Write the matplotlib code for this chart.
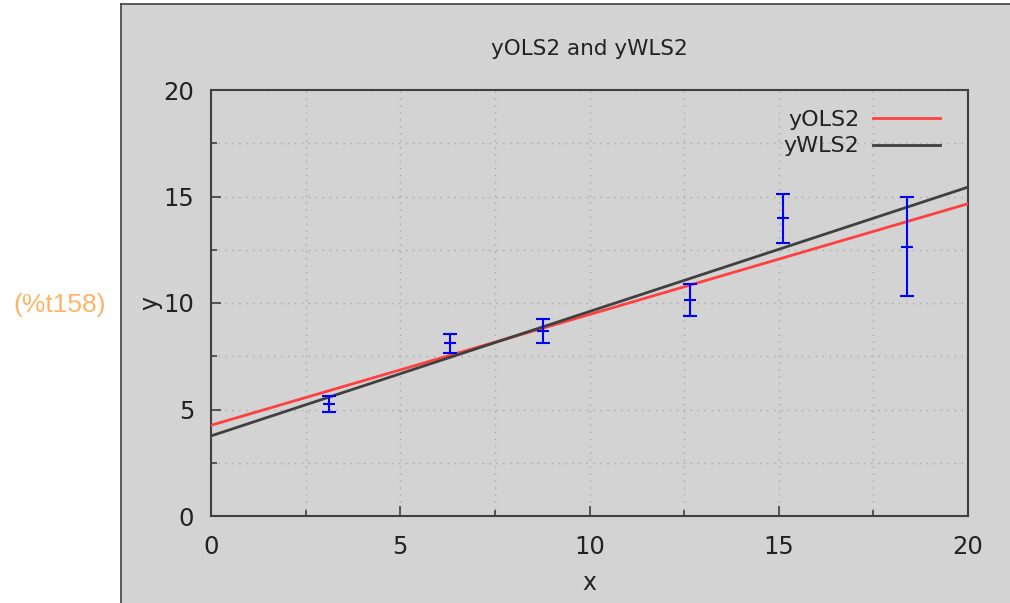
import numpy as np
import matplotlib.pyplot as plt
from matplotlib.patches import Rectangle
from matplotlib.ticker import MultipleLocator

# measured points with error bars
x_pts = [3.13, 6.31, 8.76, 12.66, 15.1, 18.39]
y_pts = [5.26, 8.1, 8.7, 10.15, 13.97, 12.64]
y_err = [0.37, 0.46, 0.57, 0.76, 1.16, 2.33]

# fitted lines: intercept, slope
ols_fit = [4.26, 0.52]
wls_fit = [3.76, 0.584]

label_name = "(%t158)"

bg = "#d3d3d3"
fig = plt.figure(figsize=(10.1, 6.03), dpi=100)
fig.patch.set_facecolor("white")

# gray output panel with a thin dark edge on left and top
x0 = 121 / 1010
y1 = 1 - 4 / 603
fig.patches.append(Rectangle((x0, 0), 1 - x0, y1, transform=fig.transFigure,
                             facecolor=bg, edgecolor="none", zorder=-1))
fig.add_artist(plt.Line2D([x0, x0], [0, y1], transform=fig.transFigure,
                          color="#404040", lw=1.2))
fig.add_artist(plt.Line2D([x0, 1], [y1, y1], transform=fig.transFigure,
                          color="#404040", lw=1.2))
fig.text(60 / 1010, 1 - 305 / 603, label_name, color="#ffb366", fontsize=19,
         family="Liberation Sans", ha="center", va="center")

ax = fig.add_axes([211 / 1010, 87 / 603, 757 / 1010, 426 / 603])
ax.set_zorder(1)
ax.set_facecolor(bg)

xs = np.array([0, 20])
ax.plot(xs, ols_fit[0] + ols_fit[1] * xs, color="#ff4040", lw=2, label="yOLS2", zorder=3)
ax.plot(xs, wls_fit[0] + wls_fit[1] * xs, color="#404040", lw=2, label="yWLS2", zorder=3)
ax.errorbar(x_pts, y_pts, yerr=y_err, fmt="_", color="#0000ff", ms=9, mew=1.5,
            elinewidth=1.5, capsize=5, capthick=1.5, zorder=4)

ax.set_xlim(0, 20)
ax.set_ylim(0, 20)
ax.xaxis.set_major_locator(MultipleLocator(5))
ax.yaxis.set_major_locator(MultipleLocator(5))
ax.xaxis.set_minor_locator(MultipleLocator(2.5))
ax.yaxis.set_minor_locator(MultipleLocator(2.5))
ax.grid(True, which="both", color="#a8a8a8", lw=1, linestyle=(0, (1, 4)))
ax.tick_params(which="major", direction="in", length=7, width=1.2, labelsize=17.5,
               colors="#404040", labelcolor="#222222")
ax.tick_params(which="minor", direction="in", length=4, width=1.2, colors="#404040")
ax.tick_params(axis="x", pad=14)
ax.tick_params(axis="y", pad=12)
for s in ax.spines.values():
    s.set_color("#404040")
    s.set_linewidth(1.5)

ax.set_title("yOLS2 and yWLS2", fontsize=15.5, color="#222222", pad=25)
ax.set_xlabel("x", fontsize=17, color="#222222", labelpad=8)
ax.set_ylabel("y", fontsize=17, color="#222222", labelpad=1)

ax.legend(loc="upper right", bbox_to_anchor=(0.983, 0.99), frameon=False,
          markerfirst=False, fontsize=16, handlelength=3.0, handletextpad=0.6,
          labelspacing=0.3, borderaxespad=0.3, labelcolor="#222222")

fig.savefig("out.png", dpi=100)
